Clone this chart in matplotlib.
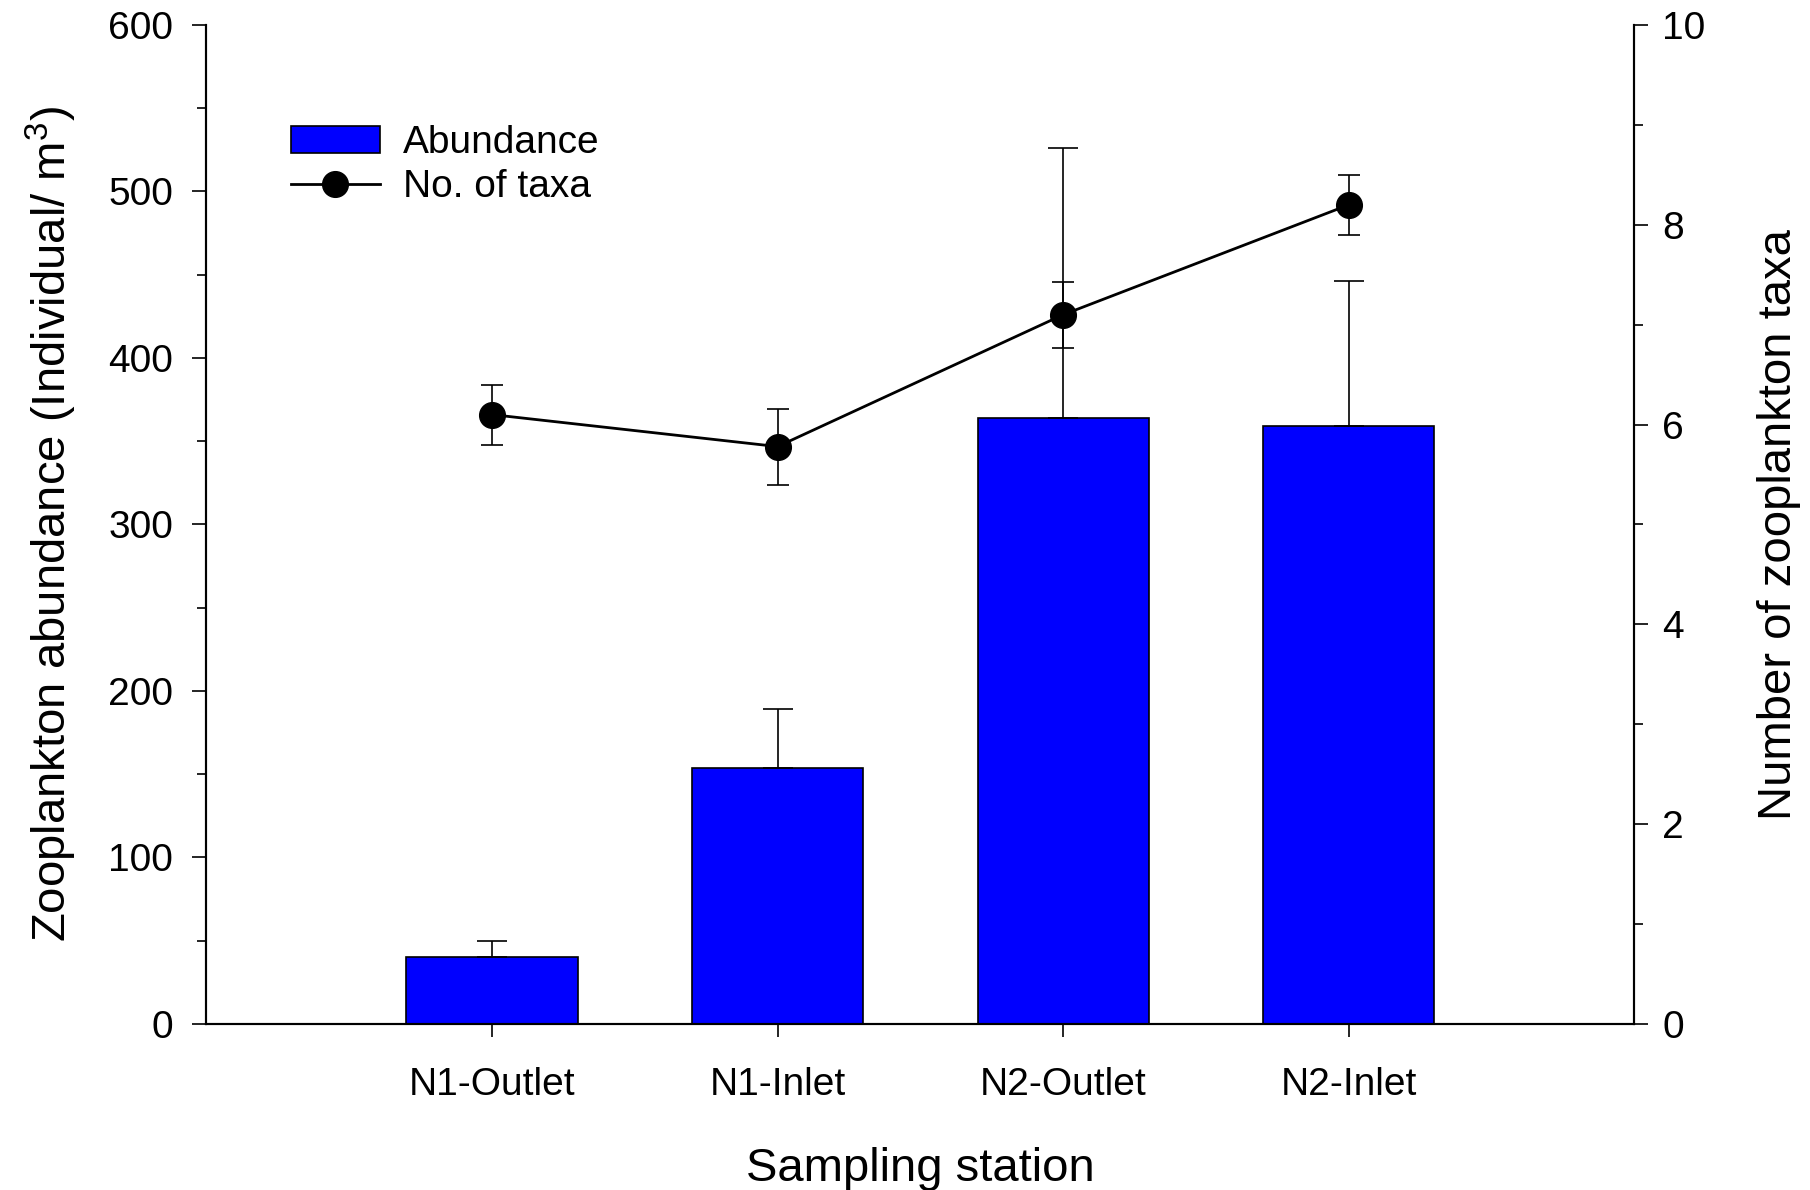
import numpy as np
import matplotlib
matplotlib.use('Agg')
import matplotlib.pyplot as plt
from matplotlib.ticker import MultipleLocator
from matplotlib.lines import Line2D

plt.rcParams['font.family'] = ['Liberation Sans', 'DejaVu Sans']

stations = ['N1-Outlet', 'N1-Inlet', 'N2-Outlet', 'N2-Inlet']
abundance = [40, 154, 364, 359]
abundance_err = [10, 35, 162, 87]
taxa = [6.1, 5.78, 7.1, 8.2]
taxa_err = [0.3, 0.38, 0.33, 0.3]

fig = plt.figure(figsize=(18.1, 11.9), dpi=100)
ax = fig.add_axes([0.114, 0.1395, 0.789, 0.8395])
ax2 = ax.twinx()

x = np.arange(len(stations))

bars = ax.bar(x, abundance, width=0.6, color='#0000ff', edgecolor='black',
              linewidth=1.2, label='Abundance', zorder=2)
ax.errorbar(x, abundance, yerr=[np.zeros(len(x)), abundance_err], fmt='none',
            ecolor='black', elinewidth=1.2, capsize=11, capthick=1.2, zorder=3)

ax2.errorbar(x, taxa, yerr=taxa_err, fmt='-o', color='black',
             markersize=18.5, linewidth=2, elinewidth=1.2, capsize=8,
             capthick=1.2)
line_handle = Line2D([], [], color='black', marker='o', markersize=18.5,
                     linewidth=2)

ax.set_xlim(-1, 4)
ax.set_ylim(0, 600)
ax2.set_ylim(0, 10)

ax.set_xticks(x)
ax.set_xticklabels(stations)
ax.yaxis.set_major_locator(MultipleLocator(100))
ax.yaxis.set_minor_locator(MultipleLocator(50))
ax2.yaxis.set_major_locator(MultipleLocator(2))
ax2.yaxis.set_minor_locator(MultipleLocator(1))

for a in (ax, ax2):
    a.spines['top'].set_visible(False)
    for s in ('left', 'right', 'bottom'):
        a.spines[s].set_linewidth(1.5)
    a.tick_params(which='major', direction='out', length=10, width=1.2,
                  labelsize=28)
    a.tick_params(which='minor', direction='out', length=6.5, width=1.2)
ax.tick_params(axis='y', pad=14)
ax2.tick_params(axis='y', pad=10)
ax.tick_params(axis='x', length=9, pad=22)

ax.set_xlabel('Sampling station', fontsize=34, labelpad=32)
ax.set_ylabel(r'Zooplankton abundance (Individual/ m$^\mathregular{3}$)',
              fontsize=34, labelpad=21)
ax2.set_ylabel('Number of zooplankton taxa', fontsize=34, labelpad=37)

ax.legend([bars, line_handle], ['Abundance', 'No. of taxa'], loc='upper left',
          bbox_to_anchor=(0.059, 0.9), frameon=False, fontsize=28,
          borderpad=0, borderaxespad=0, handlelength=2.3, handletextpad=0.6,
          labelspacing=0.22)

fig.savefig('out.png', dpi=100)
